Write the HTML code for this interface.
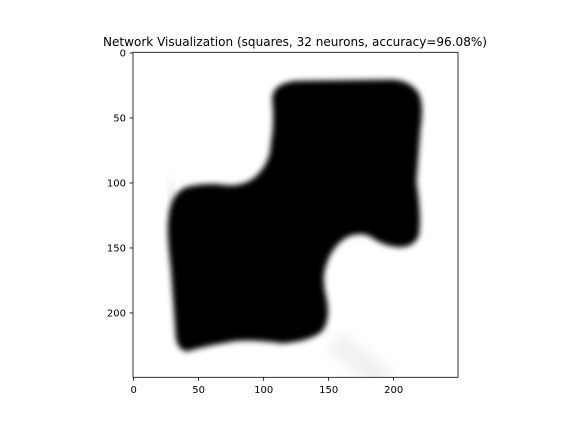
<!DOCTYPE html>
<html><head><meta charset="utf-8"><style>
body{margin:0;background:#fff;width:576px;height:432px;overflow:hidden;font-family:"DejaVu Sans","Liberation Sans",sans-serif}
</style></head><body>
<svg width="576" height="432" style="position:absolute;left:0;top:0">
<defs>
<filter id="blur" x="-20%" y="-20%" width="140%" height="140%"><feGaussianBlur stdDeviation="2.3"/></filter>
<filter id="blur2" x="-50%" y="-50%" width="200%" height="200%"><feGaussianBlur stdDeviation="5"/></filter>
<clipPath id="clip"><rect x="0" y="0" width="250" height="250"/></clipPath>
</defs>
<text x="295" y="46" text-anchor="middle" font-size="12" textLength="384" lengthAdjust="spacingAndGlyphs">Network Visualization (squares, 32 neurons, accuracy=96.08%)</text>
<g transform="translate(133,52.3) scale(1.3)" clip-path="url(#clip)">
<rect width="250" height="250" fill="#fff"/>
<path d="M155,222 L195,255" stroke="#e6e6e6" stroke-width="18" filter="url(#blur2)" opacity="0.6"/>
<path d="M28,100 L31,118" stroke="#aaa" stroke-width="4" filter="url(#blur2)" opacity="0.5"/>
<path id="shape" filter="url(#blur)" fill="#000"
d="M107,35 Q108,24 125,22 L200,21 Q214,22 220,32 Q224,40 221,60 L218,100 Q222,125 220,140 Q217,150 205,150 Q192,149 183,142 Q175,138 165,142 Q151,150 147,170 Q146,178 149,190 Q152,205 146,214 Q138,222 115,224 Q95,221 80,222 Q55,226 42,230 Q35,230 33,220 L29,165 Q26,140 27,130 Q28,110 40,104 Q55,100 70,102 Q85,104 95,95 Q106,84 106,70 Q109,55 107,35 Z"/>
</g>
<rect x="133" y="52.3" width="325" height="325" fill="none" stroke="#000" stroke-width="0.8"/>
<g id="ticks" font-size="10" fill="#000"></g>
</svg>
<script>
const xTicks=[0,50,100,150,200];
const yTicks=[0,50,100,150,200];
const sx=v=>133+0.65+v*1.3, sy=v=>52.3+0.65+v*1.3;
const g=document.getElementById('ticks');
const NS='http://www.w3.org/2000/svg';
xTicks.forEach(t=>{
 const l=document.createElementNS(NS,'line');
 
 
 l.setAttribute('x1',sx(t));l.setAttribute('x2',sx(t));l.setAttribute('y1',377.3);l.setAttribute('y2',380.8);l.setAttribute('stroke','#000');l.setAttribute('stroke-width','0.8');g.appendChild(l);
 const tx=document.createElementNS(NS,'text');
 
 
 tx.setAttribute('x',sx(t));tx.setAttribute('y',393);tx.setAttribute('text-anchor','middle');tx.textContent=t;g.appendChild(tx);
});
yTicks.forEach(t=>{
 const l=document.createElementNS(NS,'line');
 
 
 l.setAttribute('x1',129.5);l.setAttribute('x2',133);l.setAttribute('y1',sy(t));l.setAttribute('y2',sy(t));l.setAttribute('stroke','#000');l.setAttribute('stroke-width','0.8');g.appendChild(l);
 const tx=document.createElementNS(NS,'text');
 
 
 tx.setAttribute('x',126);tx.setAttribute('y',sy(t)+3.5);tx.setAttribute('text-anchor','end');tx.textContent=t;g.appendChild(tx);
});
</script>
</body></html>
